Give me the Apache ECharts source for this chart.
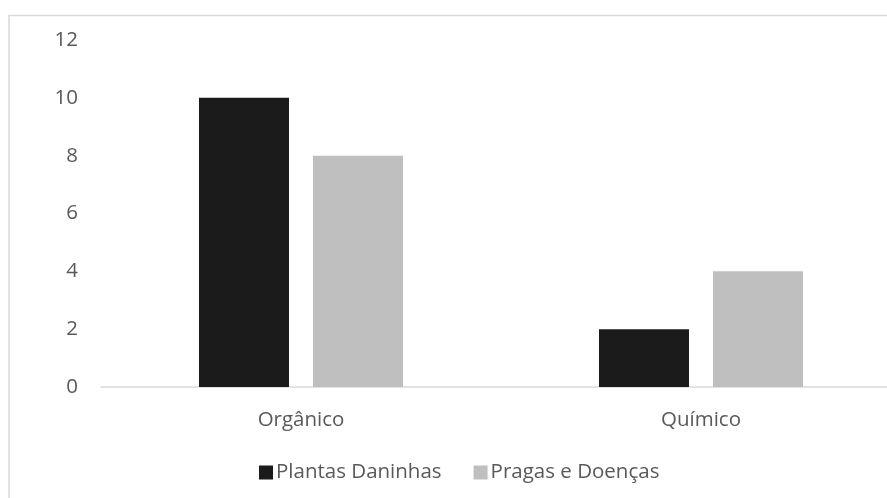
<!DOCTYPE html>
<html>
<head>
<meta charset="utf-8">
<script src="https://cdn.jsdelivr.net/npm/echarts@6/dist/echarts.min.js"></script>
<style>
  html, body { margin: 0; padding: 0; background: #fff; }
  #chart { width: 887px; height: 498px; }
</style>
</head>
<body>
<div id="chart"></div>
<script>
// Categories and values per series
const categories = ['Orgânico', 'Químico'];
const plantasDaninhas = [10, 2];
const pragasDoencas = [8, 4];
const yTicks = { min: 0, max: 12, interval: 2 };

const textColor = '#595959';
const fontFamily = 'Open Sans, Lato, sans-serif';
const fontSize = 20.5;

const chart = echarts.init(document.getElementById('chart'));
chart.setOption({
  backgroundColor: '#fff',
  animation: false,
  // chart-area frame
  graphic: [{
    type: 'rect',
    shape: { x: 9, y: 15.5, width: 910, height: 510 },
    style: { fill: 'none', stroke: '#d9d9d9', lineWidth: 1.5 },
    silent: true
  }],
  grid: { left: 101, top: 40, width: 800, height: 347, containLabel: false, outerBoundsMode: 'none' },
  legend: {
    left: 254,
    top: 457,
    itemWidth: 14,
    itemHeight: 14,
    itemGap: 32,
    icon: 'rect',
    textStyle: { color: textColor, fontSize: fontSize, fontFamily: fontFamily, padding: [0, 0, 0, -2] },
    data: ['Plantas Daninhas', 'Pragas e Doenças']
  },
  xAxis: {
    type: 'category',
    data: categories,
    axisLine: { lineStyle: { color: '#d9d9d9', width: 1.5 } },
    axisTick: { show: false },
    axisLabel: { color: textColor, fontSize: fontSize, fontFamily: fontFamily, margin: 23 }
  },
  yAxis: {
    type: 'value',
    min: yTicks.min,
    max: yTicks.max,
    interval: yTicks.interval,
    axisLine: { show: false },
    axisTick: { show: false },
    splitLine: { show: false },
    axisLabel: { color: textColor, fontSize: fontSize, fontFamily: fontFamily, margin: 23 }
  },
  series: [
    {
      name: 'Plantas Daninhas',
      type: 'bar',
      data: plantasDaninhas,
      barWidth: 90,
      barGap: '26.7%',
      itemStyle: { color: '#1b1b1b' }
    },
    {
      name: 'Pragas e Doenças',
      type: 'bar',
      data: pragasDoencas,
      barWidth: 90,
      itemStyle: { color: '#bfbfbf' }
    }
  ]
});
</script>
</body>
</html>
